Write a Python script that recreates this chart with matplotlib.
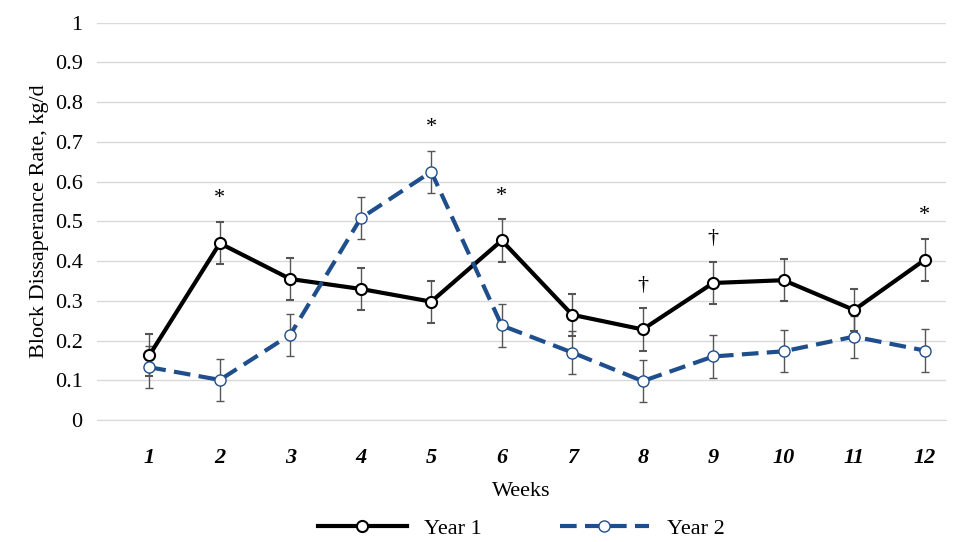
import matplotlib.pyplot as plt
from matplotlib.lines import Line2D

weeks = list(range(1, 13))
year1 = [0.163, 0.445, 0.355, 0.330, 0.298, 0.452, 0.265, 0.228, 0.345, 0.352, 0.277, 0.403]
year2 = [0.133, 0.101, 0.215, 0.508, 0.625, 0.238, 0.170, 0.098, 0.160, 0.173, 0.210, 0.175]
err1 = [0.053] * 12
err2 = [0.053] * 12
marks = {2: '*', 5: '*', 6: '*', 12: '*', 8: '†', 9: '†'}

plt.rcParams['font.family'] = ['Liberation Serif', 'DejaVu Serif']
fig, ax = plt.subplots(figsize=(9.65, 5.42), dpi=100)
fig.subplots_adjust(left=0.1, right=0.98, top=0.958, bottom=0.225)

blue = '#1f4e8c'
ax.errorbar(weeks, year1, yerr=err1, color='black', lw=3, marker='o', ms=8,
            mfc='white', mec='black', mew=1.5, ecolor='#555555', elinewidth=1,
            capsize=3, zorder=3)
ax.errorbar(weeks, year2, yerr=err2, color=blue, lw=3, ls=(0, (4, 2)), marker='o', ms=8,
            mfc='white', mec=blue, mew=1, ecolor='#555555', elinewidth=1,
            capsize=3, zorder=3)

for w, s in marks.items():
    top = max(year1[w - 1] + err1[w - 1], year2[w - 1] + err2[w - 1])
    ax.text(w, top + 0.035, s, ha='center', va='bottom', fontsize=16)

ax.set_xlim(0.25, 12.3)
ax.set_ylim(0, 1)
ax.set_xticks(weeks)
ax.set_xticklabels([str(w) for w in weeks], fontweight='bold', fontstyle='italic', fontsize=16)
ax.set_yticks([i / 10 for i in range(11)])
ax.set_yticklabels(['0'] + [f'{i/10:g}' for i in range(1, 10)] + ['1'], fontsize=16)
ax.grid(axis='y', color='#d9d9d9', lw=1)
ax.set_axisbelow(True)
for sp in ['top', 'right', 'left']:
    ax.spines[sp].set_visible(False)
ax.spines['bottom'].set_color('#d9d9d9')
ax.tick_params(axis='x', length=0, pad=20)
ax.tick_params(axis='y', length=0, pad=10)
ax.set_xlabel('Weeks', fontsize=16, labelpad=10)
ax.set_ylabel('Block Dissaperance Rate, kg/d', fontsize=16)

handles = [
    Line2D([], [], color='black', lw=3, marker='o', ms=8, mfc='white', mec='black', mew=1.5),
    Line2D([], [], color=blue, lw=3, ls=(0, (4, 2)), marker='o', ms=8, mfc='white', mec=blue, mew=1),
]
fig.legend(handles, ['Year 1', 'Year 2'], loc='center', bbox_to_anchor=(0.54, 0.025),
           ncol=2, frameon=False, fontsize=16, handlelength=4, columnspacing=3.5)

fig.savefig('out.png')
